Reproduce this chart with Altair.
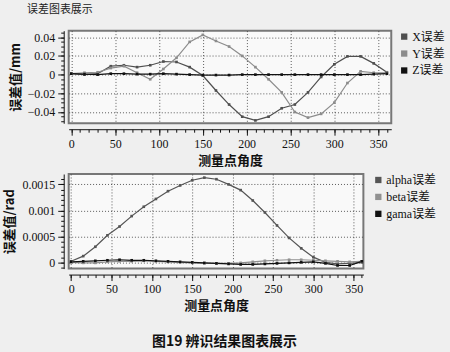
import altair as alt
import pandas as pd

angles = [0, 15, 30, 45, 60, 75, 90, 105, 120, 135, 150, 165, 180,
          195, 210, 225, 240, 255, 270, 285, 300, 315, 330, 345, 360]

x_err = [0.001, 0.0, 0.001, 0.009, 0.010, 0.008, 0.010, 0.014, 0.0135, 0.008, -0.001, -0.017, -0.032,
         -0.045, -0.049, -0.045, -0.036, -0.032, -0.019, -0.0025, 0.011, 0.0195, 0.0195, 0.012, 0.0025]
y_err = [0.001, 0.002, 0.0025, 0.007, 0.009, 0.002, -0.005, 0.006, 0.018, 0.035, 0.0425, 0.036, 0.030,
         0.020, 0.008, -0.005, -0.019, -0.040, -0.046, -0.042, -0.030, -0.009, 0.0035, 0.002, 0.002]
z_err = [0.001, 0.0005, 0.0, 0.001, 0.001, 0.0005, 0.0005, 0.001, 0.0005, 0.0, -0.0005, -0.0005, -0.0005,
         0.0, 0.0, 0.0, 0.0, 0.0, 0.0, 0.0, 0.0, 0.0, 0.0, 0.0005, 0.001]

alpha_err = [0.00002, 0.00012, 0.0003, 0.00052, 0.00069, 0.00089, 0.00107, 0.00122, 0.00137, 0.00148,
             0.00158, 0.00163, 0.0016, 0.0015, 0.00139, 0.00119, 0.00096, 0.00071, 0.00047, 0.00027,
             0.0001, 0.0, -0.00003, -0.00002, 0.0]
beta_err = [0.0, -0.00001, -0.00001, 0.00001, 0.00002, 0.00002, 0.00003, 0.00002, 0.00001, 0.0,
            -0.00001, -0.00002, -0.00002, -0.00002, -0.00001, 0.00001, 0.00003, 0.00004, 0.00005,
            0.00005, 0.00004, 0.00003, 0.00002, 0.00001, 0.00002]
gama_err = [0.00001, 0.00002, 0.00003, 0.00004, 0.00005, 0.00004, 0.00004, 0.00003, 0.00002, 0.00001,
            0.0, -0.00001, -0.00002, -0.00003, -0.00004, -0.00004, -0.00003, -0.00002, -0.00001, 0.0,
            0.00001, -0.00002, -0.00006, -0.00006, 0.00002]

top_names = ["X误差", "Y误差", "Z误差"]
bot_names = ["alpha误差", "beta误差", "gama误差"]
top_colors = ["#4f4f4f", "#8c8c8c", "#111111"]
bot_colors = ["#555555", "#909090", "#111111"]

x_major = [0, 50, 100, 150, 200, 250, 300, 350]
x_minor = [0, 10, 20, 30, 40, 50, 60, 70, 80, 90, 100, 110, 120, 130, 140, 150, 160, 170, 180,
           190, 200, 210, 220, 230, 240, 250, 260, 270, 280, 290, 300, 310, 320, 330, 340, 350, 360]
top_y_ticks = [-0.04, -0.02, 0, 0.02, 0.04]
top_y_minor = [-0.05, -0.045, -0.04, -0.035, -0.03, -0.025, -0.02, -0.015, -0.01, -0.005, 0,
               0.005, 0.01, 0.015, 0.02, 0.025, 0.03, 0.035, 0.04, 0.045]
bot_y_ticks = [0, 0.0005, 0.001, 0.0015]
bot_y_minor = [-0.0001, 0, 0.0001, 0.0002, 0.0003, 0.0004, 0.0005, 0.0006, 0.0007, 0.0008, 0.0009,
               0.001, 0.0011, 0.0012, 0.0013, 0.0014, 0.0015, 0.0016]


def long_df(names, series):
    rows = []
    for n, s in zip(names, series):
        for a, v in zip(angles, s):
            rows.append({"angle": a, "value": v, "series": n})
    return pd.DataFrame(rows)


top_df = long_df(top_names, [x_err, y_err, z_err])
bot_df = long_df(bot_names, [alpha_err, beta_err, gama_err])

SERIF = "Liberation Serif"
CJK = "Noto Sans CJK SC"
MIX = "Liberation Serif, Noto Sans CJK SC"


def panel(df, names, colors, xdom, ydom, yticks, yminor, ytitle, w, h, fmt, loff):
    xs = alt.Scale(domain=xdom, nice=False, zero=False)
    ys = alt.Scale(domain=ydom, nice=False, zero=False)
    color = alt.Color("series:N", scale=alt.Scale(domain=names, range=colors),
                      legend=alt.Legend(title=None, orient="right", symbolType="square",
                                        symbolSize=40, labelFont=MIX, labelFontSize=12,
                                        labelColor="#111", rowPadding=5, offset=loff,
                                        symbolStrokeWidth=0, labelOffset=2))
    main = alt.Chart(df).mark_line(strokeWidth=1.2).encode(
        x=alt.X("angle:Q", scale=xs,
                axis=alt.Axis(values=x_major, title="测量点角度", grid=True, tickSize=6,
                              offset=6, format="d")),
        y=alt.Y("value:Q", scale=ys,
                axis=alt.Axis(values=yticks, title=ytitle, grid=True, tickSize=6,
                              offset=5, format=fmt)),
        color=color,
        order="angle:Q",
    )
    pts = alt.Chart(df).mark_point(shape="square", size=7, filled=True, opacity=1).encode(
        x=alt.X("angle:Q", scale=xs,
                axis=alt.Axis(values=x_minor, labels=False, title=None, grid=False,
                              domain=False, tickSize=3, offset=6, orient="bottom")),
        y=alt.Y("value:Q", scale=ys,
                axis=alt.Axis(values=yminor, labels=False, title=None, grid=False,
                              domain=False, tickSize=3, offset=5, orient="left")),
        color=alt.Color("series:N", scale=alt.Scale(domain=names, range=colors), legend=None),
    )
    return alt.layer(main, pts).resolve_axis(x="independent", y="independent").properties(
        width=w, height=h)


top = panel(top_df, top_names, top_colors, [-3, 365], [-0.052, 0.047],
            top_y_ticks, top_y_minor, "误差值/mm", 324, 93, "~g", 7).properties(
    title=alt.TitleParams("误差图表展示", anchor="start", fontSize=11, font=CJK,
                          fontWeight="normal", color="#222", dx=18, offset=16))
bot = panel(bot_df, bot_names, bot_colors, [-3, 362], [-0.00012, 0.0017],
            bot_y_ticks, bot_y_minor, "误差值/rad", 296, 95, "~g", 8)

chart = alt.vconcat(top, bot, spacing=5).resolve_scale(color="independent").properties(
    title=alt.TitleParams("图19  辨识结果图表展示", orient="bottom", anchor="middle",
                          fontSize=14, font=CJK, fontWeight="bold", color="#111", offset=22),
    padding={"left": 3, "top": 2, "right": 4, "bottom": 4},
    background="#efefef",
).configure_view(
    stroke="#777777", strokeWidth=2, fill="#f9f9f9"
).configure_axis(
    labelFont=SERIF, labelFontSize=12, labelColor="#111",
    titleFont=CJK, titleFontSize=13, titleFontWeight="bold", titleColor="#111",
    domainColor="#111", tickColor="#111", domainWidth=1,
    gridColor="#333333", gridDash=[1, 2], gridOpacity=0.8, gridWidth=1,
    labelPadding=3, titlePadding=5,
)

chart.save("out.html", embed_options={"renderer": "svg", "actions": False})
